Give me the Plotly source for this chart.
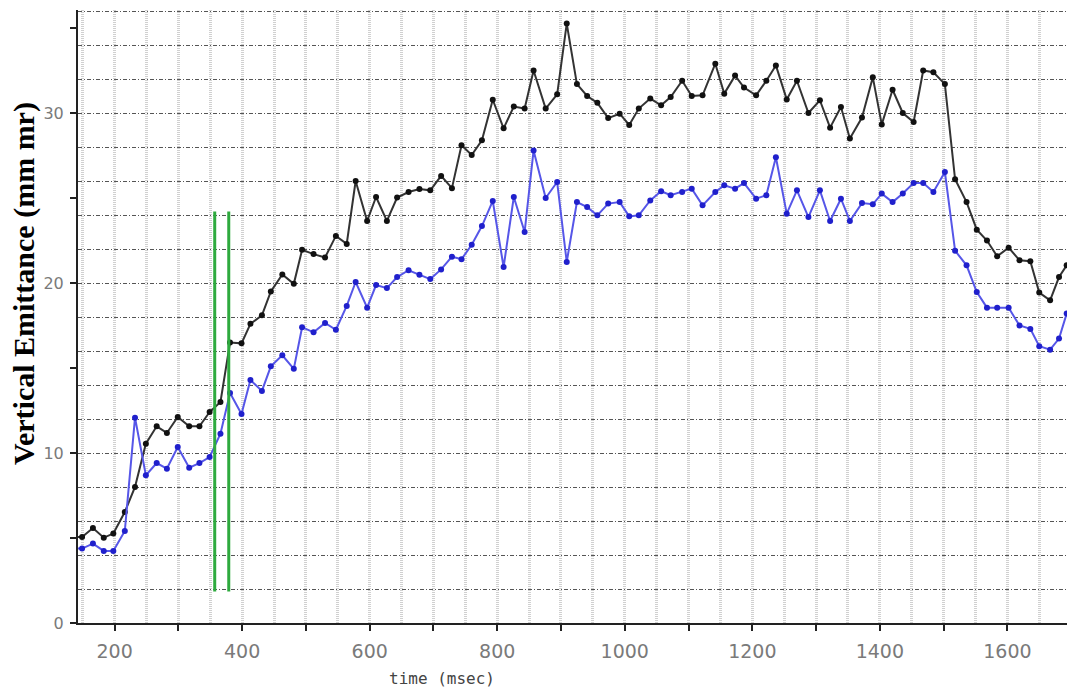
import plotly.graph_objects as go

# Sample times (ms) and emittance values (mm mr)
time_ms = [132, 149, 166, 183, 198, 216, 232, 249, 266, 282, 299, 317, 333, 349, 366,
           381, 399, 413, 431, 445, 463, 481, 494, 512, 530, 547, 564, 578, 596, 610,
           627, 643, 661, 678, 695, 712, 729, 744, 760, 776, 793, 810, 826, 843, 857,
           876, 894, 909, 925, 941, 957, 974, 992, 1007, 1022, 1040, 1057, 1072, 1090,
           1105, 1122, 1142, 1156, 1173, 1187, 1206, 1222, 1237, 1254, 1270, 1288, 1306,
           1322, 1339, 1353, 1372, 1389, 1403, 1420, 1436, 1453, 1468, 1484, 1502, 1518,
           1536, 1552, 1568, 1584, 1602, 1619, 1636, 1650, 1667, 1681, 1693]

emit_black = [5.05, 5.06, 5.59, 5.02, 5.26, 6.53, 8.0, 10.55, 11.57, 11.18, 12.12, 11.57,
              11.57, 12.41, 13.0, 16.5, 16.45, 17.6, 18.1, 19.5, 20.5, 19.95, 21.95, 21.7,
              21.5, 22.77, 22.3, 26.0, 23.65, 25.06, 23.65, 25.03, 25.35, 25.53, 25.45,
              26.3, 25.58, 28.1, 27.53, 28.4, 30.78, 29.1, 30.38, 30.26, 32.5, 30.26, 31.1,
              35.26, 31.7, 31.0, 30.6, 29.7, 29.96, 29.3, 30.26, 30.85, 30.45, 30.94, 31.9,
              31.0, 31.04, 32.9, 31.14, 32.2, 31.5, 31.04, 31.9, 32.8, 30.8, 31.9, 30.0,
              30.75, 29.14, 30.35, 28.5, 29.73, 32.1, 29.33, 31.37, 30.0, 29.47, 32.5, 32.4,
              31.7, 26.1, 24.76, 23.14, 22.5, 21.57, 22.08, 21.34, 21.28, 19.44, 18.98,
              20.35, 21.04]

emit_blue = [4.4, 4.38, 4.67, 4.24, 4.24, 5.41, 12.08, 8.69, 9.41, 9.08, 10.35, 9.14,
             9.41, 9.76, 11.14, 13.53, 12.3, 14.3, 13.65, 15.1, 15.75, 14.95, 17.4, 17.1,
             17.65, 17.25, 18.65, 20.06, 18.55, 19.88, 19.7, 20.35, 20.75, 20.48, 20.23,
             20.8, 21.55, 21.4, 22.25, 23.35, 24.83, 20.94, 25.06, 23.0, 27.8, 25.0, 25.94,
             21.24, 24.76, 24.47, 23.98, 24.67, 24.76, 23.92, 23.98, 24.86, 25.4, 25.16,
             25.35, 25.55, 24.57, 25.35, 25.75, 25.55, 25.88, 24.96, 25.16, 27.4, 24.08,
             25.45, 23.88, 25.45, 23.65, 24.96, 23.65, 24.7, 24.63, 25.26, 24.76, 25.26,
             25.88, 25.88, 25.35, 26.53, 21.9, 21.04, 19.47, 18.55, 18.55, 18.55, 17.5,
             17.3, 16.28, 16.08, 16.73, 18.2]

# Marker window (ms) and its vertical extent
window_ms = [357, 379]
window_span = [1.85, 24.2]

x_range = [142.6, 1693.5]
y_range = [0, 36.06]

x_label_vals = [200, 400, 600, 800, 1000, 1200, 1400, 1600]
y_label_vals = [0, 10, 20, 30]

fig = go.Figure()

fig.add_trace(go.Scatter(
    x=time_ms, y=emit_black, mode="lines+markers",
    line=dict(color="#333333", width=2),
    marker=dict(color="#111111", size=6, symbol="circle"),
    showlegend=False, cliponaxis=True,
))
fig.add_trace(go.Scatter(
    x=time_ms, y=emit_blue, mode="lines+markers",
    line=dict(color="#5656e8", width=2),
    marker=dict(color="#2020cc", size=6, symbol="circle"),
    showlegend=False, cliponaxis=True,
))

# Green window lines, drawn on the overlaid grid axes
gx, gy = [], []
for w in window_ms:
    gx += [w, w, None]
    gy += [window_span[0], window_span[1], None]
fig.add_trace(go.Scatter(
    x=gx, y=gy, mode="lines", xaxis="x2", yaxis="y2",
    line=dict(color="#2eaa3e", width=3), showlegend=False,
))

fig.update_layout(
    width=1067, height=690,
    margin=dict(l=78, r=0, t=10, b=67),
    paper_bgcolor="white", plot_bgcolor="white",
    xaxis=dict(
        range=x_range, tickmode="array", tickvals=x_label_vals,
        ticks="outside", ticklen=6, tickwidth=2, tickcolor="#222",
        minor=dict(dtick=100, tick0=0, ticks="outside", ticklen=6, tickwidth=2,
                   tickcolor="#222", showgrid=False),
        showgrid=False, zeroline=False,
        showline=True, linecolor="#222", linewidth=2,
        tickfont=dict(family="DejaVu Sans", size=19, color="#7a7a7a"),
        ticklabelstandoff=4,
    ),
    yaxis=dict(
        range=y_range, tickmode="array", tickvals=y_label_vals,
        ticks="outside", ticklen=6, tickwidth=2, tickcolor="#222",
        minor=dict(dtick=5, tick0=0, ticks="outside", ticklen=6, tickwidth=2,
                   tickcolor="#222", showgrid=False),
        showgrid=False, zeroline=False,
        showline=True, linecolor="#222", linewidth=2,
        tickfont=dict(family="DejaVu Sans", size=16, color="#7a7a7a"),
        ticklabelstandoff=3,
    ),
    xaxis2=dict(
        range=x_range, overlaying="x", anchor="y2", side="bottom",
        tickmode="linear", tick0=0, dtick=50, showticklabels=False, ticks="",
        showgrid=True, gridcolor="#d0d0d0", gridwidth=2.5, griddash="1px,1px",
        zeroline=False, showline=False,
    ),
    yaxis2=dict(
        range=y_range, overlaying="y", anchor="x2", side="left",
        tickmode="linear", tick0=0, dtick=2, showticklabels=False, ticks="",
        showgrid=True, gridcolor="#555555", gridwidth=1.3, griddash="4px,2px,1px,2px",
        zeroline=False, showline=False,
    ),
    annotations=[
        dict(text="time (msec)", xref="x", yref="paper", x=714, y=-0.09,
             xanchor="center", yanchor="middle", showarrow=False,
             font=dict(family="DejaVu Sans Mono", size=16, color="#444444")),
        dict(text="<b>Vertical Emittance (mm mr)</b>", xref="paper", yref="paper",
             x=-0.054, y=0.554, xanchor="center", yanchor="middle", textangle=-90,
             showarrow=False,
             font=dict(family="Liberation Serif", size=30, color="#000000")),
    ],
)

fig.write_html("out.html")
